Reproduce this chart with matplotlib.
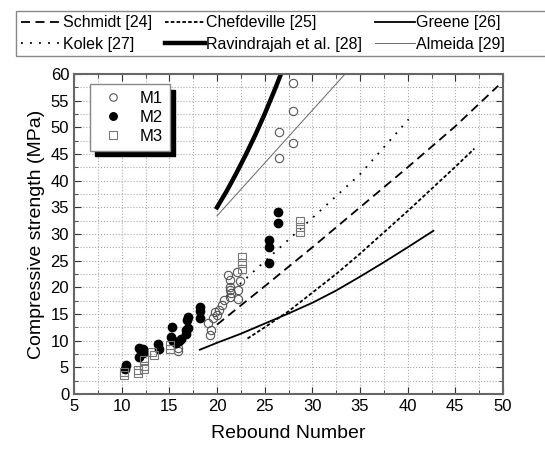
import matplotlib
matplotlib.use("Agg")
import matplotlib.pyplot as plt
from matplotlib.patches import Rectangle
from matplotlib.ticker import MultipleLocator

plt.rcParams['font.family'] = ['Liberation Sans', 'DejaVu Sans']

# measured data
m1_x = [15.9, 15.9, 19.3, 19.4, 19.1, 19.6, 19.8, 20.0, 20.2, 20.5, 20.7, 21.4, 21.4, 21.4, 21.2,
        22.1, 22.4, 22.2, 22.2, 21.4, 21.5, 26.5, 26.5, 28.0, 28.0, 28.0]
m1_y = [8.0, 8.6, 11.1, 12.0, 13.3, 14.2, 15.4, 14.8, 15.8, 16.7, 17.6, 18.2, 20.1, 21.4, 22.3,
        22.9, 21.1, 19.5, 17.9, 19.5, 18.9, 44.2, 49.1, 47.0, 53.1, 58.4]

m2_x = [10.5, 10.4, 11.8, 12.0, 12.2, 11.8, 12.2, 13.8, 13.9, 15.25, 15.2, 15.4, 15.7, 16.0,
        16.2, 16.7, 16.8, 17.0, 16.9, 17.0, 18.2, 18.2, 18.2, 25.5, 25.5, 25.5, 26.4, 26.4]
m2_y = [5.5, 4.6, 8.6, 8.1, 8.4, 7.0, 7.6, 9.3, 8.4, 12.6, 10.6, 9.9, 9.5, 9.9,
        10.4, 11.2, 12.0, 12.4, 13.8, 14.5, 16.4, 15.6, 14.2, 28.8, 27.5, 24.6, 34.2, 32.1]

m3_x = [10.2, 10.2, 11.7, 11.7, 12.3, 12.3, 12.3, 13.2, 13.4, 15.1, 15.1,
        22.6, 22.6, 22.6, 28.7, 28.7, 28.7]
m3_y = [4.1, 3.5, 4.5, 3.9, 6.3, 5.3, 4.6, 7.8, 7.3, 9.2, 8.5,
        25.6, 24.5, 23.4, 32.4, 31.3, 30.3]

schmidt_x = [20, 25, 30, 35, 40, 45, 49.5]
schmidt_y = [13.0, 20.2, 27.5, 35.0, 42.5, 50.2, 57.8]

chefdeville_x = [23.2, 25, 27.5, 30, 32.5, 35, 40, 45, 47]
chefdeville_y = [10.4, 12.5, 15.5, 19.0, 22.5, 26.3, 34.3, 42.6, 46.0]

greene_x = [18.2, 20, 22.5, 25, 27.5, 30, 32.5, 35, 37.5, 40, 42.7]
greene_y = [8.3, 9.6, 11.3, 13.2, 15.1, 17.1, 19.4, 22.0, 24.7, 27.5, 30.6]

kolek_x = [21, 23.8, 27.3, 30, 35, 40.1]
kolek_y = [18.3, 22.9, 28.6, 33.0, 41.2, 51.5]

ravindrajah_x = [20, 21, 22, 23, 24, 25, 26, 27]
ravindrajah_y = [35.0, 38.0, 41.3, 44.8, 48.5, 52.5, 56.8, 61.3]

almeida_x = [20, 25, 30, 35]
almeida_y = [33.4, 43.3, 53.2, 63.1]

fig = plt.figure(figsize=(5.45, 4.49), dpi=100)
ax = fig.add_axes([74/545, 1-394/449, 429/545, 320/449])

l1, = ax.plot(schmidt_x, schmidt_y, color='k', lw=1.3, linestyle=(0, (5, 3)), label='Schmidt [24]')
l2, = ax.plot(chefdeville_x, chefdeville_y, color='k', lw=1.3, linestyle=(0, (2, 1.2)), label='Chefdeville [25]')
l3, = ax.plot(greene_x, greene_y, color='k', lw=1.3, label='Greene [26]')
l4, = ax.plot(kolek_x, kolek_y, color='k', lw=1.3, linestyle=(0, (1, 4)), label='Kolek [27]')
l5, = ax.plot(ravindrajah_x, ravindrajah_y, color='k', lw=3.2, label='Ravindrajah et al. [28]')
l6, = ax.plot(almeida_x, almeida_y, color='#666666', lw=0.7, label='Almeida [29]')

p1, = ax.plot(m1_x, m1_y, 'o', ms=6, mfc='none', mec='#555555', mew=0.8, label='M1')
p2, = ax.plot(m2_x, m2_y, 'o', ms=6, mfc='k', mec='k', label='M2')
p3, = ax.plot(m3_x, m3_y, 's', ms=6, mfc='none', mec='#777777', mew=0.8, label='M3')

ax.set_xlim(5, 50)
ax.set_ylim(0, 60)
ax.xaxis.set_major_locator(MultipleLocator(5))
ax.xaxis.set_minor_locator(MultipleLocator(2.5))
ax.yaxis.set_major_locator(MultipleLocator(5))
ax.yaxis.set_minor_locator(MultipleLocator(2.5))
ax.grid(True, which='both', linestyle=':', color='#aaaaaa', lw=0.8)
ax.set_axisbelow(True)
ax.tick_params(which='both', direction='in', top=True, right=True, labelsize=12, color='#333333')
ax.tick_params(which='major', length=5)
ax.tick_params(which='minor', length=3)
for s in ax.spines.values():
    s.set_color('#666666')
    s.set_linewidth(1.5)

ax.set_xlabel('Rebound Number', fontsize=14, labelpad=8)
ax.set_ylabel('Compressive strength (MPa)', fontsize=14, labelpad=4)

leg = ax.legend(handles=[p1, p2, p3], loc='upper left', bbox_to_anchor=(0.037, 0.968),
                borderaxespad=0, fontsize=12, fancybox=False, framealpha=1, edgecolor='#888888',
                handletextpad=0.6, labelspacing=0.25, borderpad=0.4, markerscale=0.9,
                shadow={'ox': 4, 'oy': -4, 'facecolor': 'black', 'edgecolor': 'black', 'alpha': 1})

# frame of the top legend, running off the right edge like the original
fig.patches.append(Rectangle((16/545, 1-56/449), 1.0, 45/449, transform=fig.transFigure,
                             fill=False, edgecolor='#888888', lw=1.0))
fig.legend(handles=[l1, l4, l2, l5, l3, l6], loc='upper left', ncol=3,
           bbox_to_anchor=(18/545, 1-12/449), borderaxespad=0, frameon=False,
           fontsize=11.5, handlelength=2.5, handletextpad=0.1, labelspacing=0.4,
           borderpad=0.2, columnspacing=0.8)

fig.savefig('out.png', dpi=100)
